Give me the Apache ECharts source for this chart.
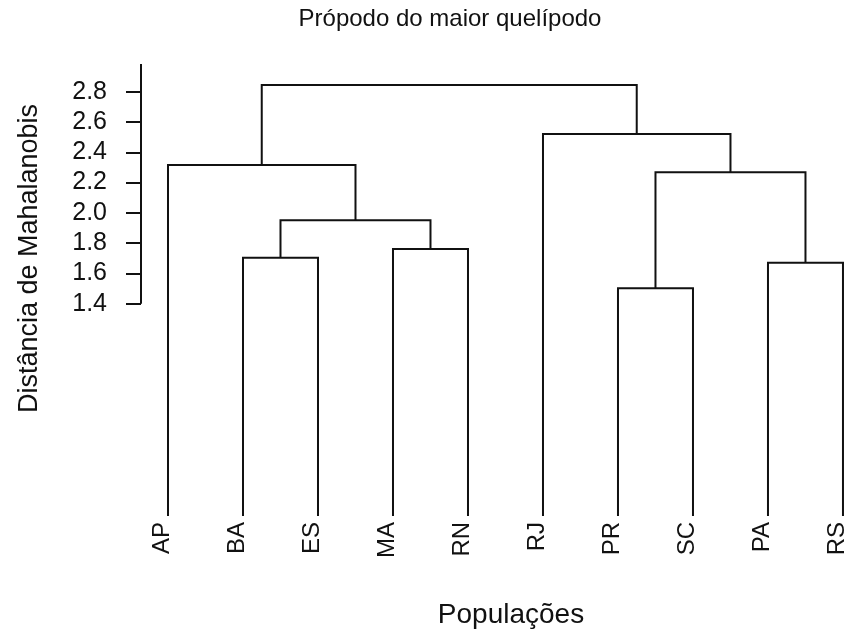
<!DOCTYPE html>
<html>
<head>
<meta charset="utf-8">
<title>Própodo do maior quelípodo</title>
<script src="https://cdn.jsdelivr.net/npm/echarts@6/dist/echarts.min.js"></script>
<style>
	html, body { margin: 0; padding: 0; background: #fff; }
	#main { width: 857px; height: 633px; }
</style>
</head>
<body>
<div id="main"></div>
<script>
// folhas na ordem do dendrograma
var leaves = ['AP', 'BA', 'ES', 'MA', 'RN', 'RJ', 'PR', 'SC', 'PA', 'RS'];
// matriz de fusões estilo hclust: negativo = folha (posição 1..n), positivo = fusão anterior
var mergeA = [-2, -4, 1, -1, -7, -9, 5, -6, 4];
var mergeB = [-3, -5, 2, 3, -8, -10, 6, 7, 8];
var mergeHeight = [1.704, 1.762, 1.951, 2.316, 1.502, 1.671, 2.268, 2.521, 2.844];
// marcas do eixo y
var yTicks = [1.4, 1.6, 1.8, 2.0, 2.2, 2.4, 2.6, 2.8];

var xMin = 0.64, xMax = 10.187;
var axisTop = 2.983;

// posição de cada nó
var nodes = [];
function nodePos(id) {
	if (id < 0) return [-id, 0];
	return nodes[id - 1];
}
var segs = [];
for (var i = 0; i < mergeHeight.length; i++) {
	var a = nodePos(mergeA[i]), b = nodePos(mergeB[i]), h = mergeHeight[i];
	segs.push([a[0], a[1], b[0], b[1], h]);
	nodes.push([(a[0] + b[0]) / 2, h]);
}
var leafPos = leaves.map(function(_, i) { return i + 1; });

var myChart = echarts.init(document.getElementById('main'), null, { renderer: 'canvas' });
var font = 'Liberation Sans, Arial, sans-serif';
var ink = '#111';

var option = {
	animation: false,
	backgroundColor: '#fff',
	grid: { left: 141, right: 0, top: 61.4, bottom: 117.1, containLabel: false },
	xAxis: {
		type: 'value', min: xMin, max: xMax,
		axisLine: { show: false }, axisTick: { show: false }, splitLine: { show: false },
		axisLabel: {
			customValues: leafPos,
			formatter: function(v) { return leaves[Math.round(v) - 1]; },
			rotate: 90, margin: 6,
			fontSize: 24, fontFamily: font, color: ink,
			verticalAlign: 'bottom', lineHeight: 11
		}
	},
	yAxis: {
		type: 'value', min: 0, max: 3.0,
		axisLine: { show: false }, splitLine: { show: false },
		axisTick: { show: true, customValues: yTicks, length: 15, lineStyle: { color: ink, width: 2 } },
		axisLabel: {
			customValues: yTicks,
			formatter: function(v) { return v.toFixed(1); },
			margin: 34, fontSize: 25, fontFamily: font, color: ink
		}
	},
	graphic: [
		{ type: 'text', x: 450, y: 19, style: { text: 'Própodo do maior quelípodo', font: '24px ' + font, fill: ink, align: 'center', verticalAlign: 'middle' } },
		{ type: 'text', x: 511, y: 615, style: { text: 'Populações', font: '28px ' + font, fill: ink, align: 'center', verticalAlign: 'middle' } },
		{ type: 'text', x: 30, y: 258.5, rotation: Math.PI / 2, style: { text: 'Distância de Mahalanobis', font: '27px ' + font, fill: ink, align: 'center', verticalAlign: 'middle' } }
	],
	series: [{
		type: 'custom',
		data: segs,
		encode: { x: [0, 2], y: [1, 3, 4] },
		renderItem: function(params, api) {
			var p1 = api.coord([api.value(0), api.value(1)]);
			var p2 = api.coord([api.value(0), api.value(4)]);
			var p3 = api.coord([api.value(2), api.value(4)]);
			var p4 = api.coord([api.value(2), api.value(3)]);
			return {
				type: 'polyline',
				shape: { points: [p1, p2, p3, p4] },
				style: { stroke: ink, lineWidth: 2, fill: null }
			};
		}
	}, {
		type: 'line',
		data: [[xMin, yTicks[0]], [xMin, axisTop]],
		symbol: 'none',
		lineStyle: { color: ink, width: 2 }
	}]
};

myChart.setOption(option);
</script>
</body>
</html>
